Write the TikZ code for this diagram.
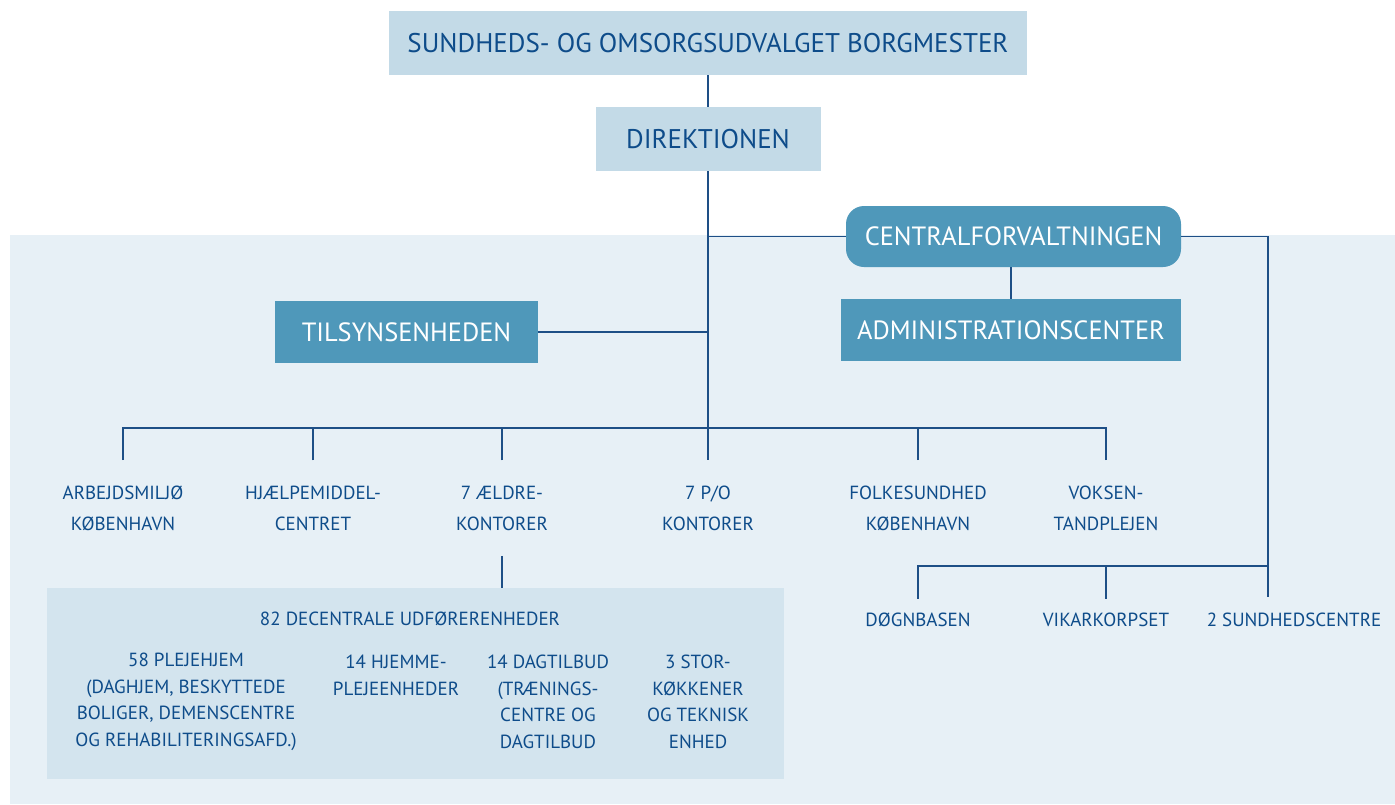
\documentclass[tikz,border=0pt]{standalone}
\usepackage{fontspec}
\setmainfont{PT Sans}
\definecolor{txtblue}{HTML}{0E4C8A}
\definecolor{linblue}{HTML}{1E4F86}
\definecolor{paleblue}{HTML}{C3DAE7}
\definecolor{midblue}{HTML}{4F98BA}
\definecolor{panelblue}{HTML}{E7F0F6}
\definecolor{decblue}{HTML}{D3E4EE}
\begin{document}
\begin{tikzpicture}[x=0.5pt,y=-0.5pt,
  pale/.style={fill=paleblue,text=txtblue,font=\fontsize{13.5}{15}\selectfont,inner sep=0pt},
  dark/.style={fill=midblue,text=white,font=\fontsize{13.2}{15}\selectfont,inner sep=0pt},
  unit/.style={text=txtblue,font=\fontsize{9.5}{15.5}\selectfont,align=center,inner xsep=0pt,inner ysep=12.5pt},
  leaf/.style={text=txtblue,font=\fontsize{9.5}{12}\selectfont,inner xsep=0pt,inner ysep=7pt},
  sub/.style={text=txtblue,font=\fontsize{9.5}{13.3}\selectfont,align=center,inner sep=0pt},
  conn/.style={draw=linblue,line width=0.75pt}]
\useasboundingbox (0,0) rectangle (1395,804);
% background panel
\fill[panelblue] (10,235) rectangle (1395,804);
% top of the chart
\node[pale,minimum width=319pt,minimum height=32pt] (udvalg) at (708,43) {SUNDHEDS- OG OMSORGSUDVALGET BORGMESTER};
\node[pale,minimum width=112.5pt,minimum height=32pt] (direk) at (708,139) {DIREKTIONEN};
\node[dark,rounded corners=9pt,minimum width=167.5pt,minimum height=30.5pt] (central) at (1013.5,236.5) {CENTRALFORVALTNINGEN};
\node[dark,minimum width=131.5pt,minimum height=31pt] (tilsyn) at (406.5,332) {TILSYNSENHEDEN};
\node[dark,minimum width=170pt,minimum height=31pt] (admin) at (1011,330) {ADMINISTRATIONSCENTER};
% units
\node[unit] (arbejd) at (123,508) {ARBEJDSMILJØ\\KØBENHAVN};
\node[unit] (hjaelp) at (313,508) {HJÆLPEMIDDEL-\\CENTRET};
\node[unit] (aeldre) at (502,508) {7 ÆLDRE-\\KONTORER};
\node[unit] (po) at (708,508) {7 P/O\\KONTORER};
\node[unit] (folke) at (918,508) {FOLKESUNDHED\\KØBENHAVN};
\node[unit] (voksen) at (1106,508) {VOKSEN-\\TANDPLEJEN};
\node[leaf] (doegn) at (918,620) {DØGNBASEN};
\node[leaf] (vikar) at (1106,620) {VIKARKORPSET};
\node[leaf] (sundc) at (1294,620) {2 SUNDHEDSCENTRE};
\coordinate (bus) at (708,428);
\coordinate (rbus) at (1268,566);
\coordinate (rend) at (1268,597);
% decentral units
\node[fill=decblue,minimum width=368.5pt,minimum height=95.5pt,inner sep=0pt] (decent) at (415,683.5) {};
\node[sub] (dectitle) at (410,619) {82 DECENTRALE UDFØRERENHEDER};
\node[sub] (pleje) at (186,702) {58 PLEJEHJEM\\(DAGHJEM, BESKYTTEDE\\BOLIGER, DEMENSCENTRE\\OG REHABILITERINGSAFD.)};
\node[sub] (hjemme) at (396,675.5) {14 HJEMME-\\PLEJEENHEDER};
\node[sub] (dagtil) at (548,702) {14 DAGTILBUD\\(TRÆNINGS-\\CENTRE OG\\DAGTILBUD};
\node[sub] (stork) at (698,702) {3 STOR-\\KØKKENER\\OG TEKNISK\\ENHED};
% lines
\draw[conn] (udvalg) -- (direk);
\draw[conn] (direk) -- (po);
\draw[conn] (central.west) -- (central.west -| direk.south);
\draw[conn] (central.east) -| (rend);
\draw[conn] (admin.north) -- (admin.north |- central.south);
\draw[conn] (tilsyn.east) -- (tilsyn.east -| direk.south);
\draw[conn] (arbejd.north) |- (bus);
\draw[conn] (voksen.north) |- (bus);
\draw[conn] (hjaelp.north) -- (hjaelp.north |- bus);
\draw[conn] (aeldre.north) -- (aeldre.north |- bus);
\draw[conn] (folke.north) -- (folke.north |- bus);
\draw[conn] (aeldre.south) -- (aeldre.south |- decent.north);
\draw[conn] (doegn.north) |- (rbus);
\draw[conn] (vikar.north) -- (vikar.north |- rbus);
\end{tikzpicture}
\end{document}
